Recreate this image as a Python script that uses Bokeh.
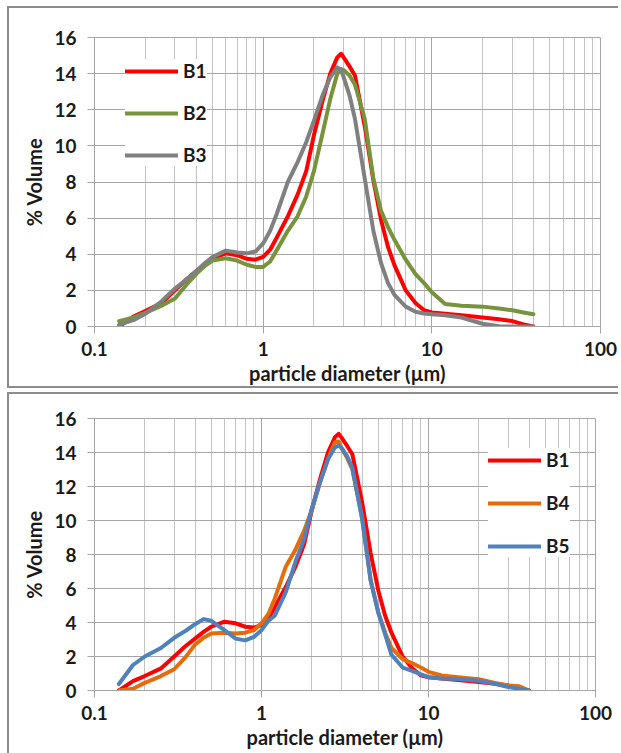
from bokeh.plotting import figure
from bokeh.models import (Range1d, FixedTicker, CustomJSTickFormatter, Legend, LegendItem)
from bokeh.layouts import column
from bokeh.embed import file_html
from bokeh.resources import INLINE

# ---------------- data ----------------
diameter = [0.14, 0.17, 0.2, 0.25, 0.3, 0.35, 0.4, 0.45, 0.5, 0.6, 0.7, 0.8, 0.9, 1.0,
            1.1, 1.2, 1.4, 1.6, 1.8, 2.0, 2.25, 2.5, 2.75, 2.9, 3.0, 3.25, 3.5, 4.0, 4.5,
            5.0, 5.5, 6.0, 7.0, 8.0, 9.0, 10, 12, 15, 20, 25, 30, 35, 40]

b1 = [0.0, 0.55, 0.85, 1.3, 2.0, 2.6, 3.05, 3.45, 3.75, 4.05, 3.95, 3.75, 3.7, 3.85,
      4.25, 4.9, 6.1, 7.3, 8.6, 10.6, 12.5, 14.0, 14.9, 15.1, 14.9, 14.4, 13.9, 11.1, 8.1,
      5.9, 4.4, 3.4, 2.0, 1.3, 0.9, 0.78, 0.7, 0.62, 0.5, 0.4, 0.3, 0.12, 0.0]

b2 = [0.3, 0.5, 0.75, 1.15, 1.55, 2.3, 2.9, 3.35, 3.65, 3.78, 3.65, 3.42, 3.3, 3.3,
      3.6, 4.2, 5.3, 6.1, 7.2, 8.6, 10.7, 12.6, 14.0, 14.25, 14.2, 13.9, 13.4, 11.5, 8.2,
      6.4, 5.5, 4.8, 3.7, 2.9, 2.4, 1.9, 1.25, 1.15, 1.1, 1.0, 0.9, 0.78, 0.68]

b3 = [0.1, 0.35, 0.7, 1.4, 2.1, 2.6, 3.05, 3.5, 3.85, 4.2, 4.1, 4.05, 4.15, 4.6,
      5.3, 6.2, 8.0, 9.1, 10.2, 11.4, 12.8, 13.8, 14.35, 14.2, 13.8, 12.8, 11.5, 8.2, 5.3,
      3.5, 2.4, 1.75, 1.1, 0.82, 0.72, 0.68, 0.62, 0.5, 0.15, 0.02, 0.0, 0.0, 0.0]

b4 = [0.0, 0.1, 0.45, 0.85, 1.25, 1.95, 2.7, 3.1, 3.35, 3.4, 3.35, 3.4, 3.55, 3.95,
      4.5, 5.4, 7.3, 8.3, 9.4, 10.6, 12.3, 13.6, 14.6, 14.65, 14.3, 13.7, 13.0, 10.2, 6.5,
      4.6, 3.4, 2.5, 1.85, 1.6, 1.35, 1.1, 0.88, 0.78, 0.66, 0.45, 0.3, 0.25, 0.0]

b5 = [0.38, 1.5, 2.0, 2.5, 3.1, 3.5, 3.9, 4.2, 4.1, 3.55, 3.05, 2.95, 3.15, 3.55,
      4.1, 4.4, 5.8, 7.6, 8.9, 10.7, 12.3, 13.6, 14.3, 14.4, 14.3, 13.8, 13.1, 10.1, 6.5,
      4.6, 3.3, 2.1, 1.35, 1.15, 0.95, 0.78, 0.7, 0.67, 0.57, 0.4, 0.2, 0.1, 0.0]

x_major = [0.1, 1, 10, 100]
x_minor = [0.2, 0.3, 0.4, 0.5, 0.6, 0.7, 0.8, 0.9,
           2, 3, 4, 5, 6, 7, 8, 9,
           20, 30, 40, 50, 60, 70, 80, 90]
y_ticks = [0, 2, 4, 6, 8, 10, 12, 14, 16]

RED = "#ff0000"
GREEN = "#77933c"
GRAY = "#808080"
ORANGE = "#e46c0a"
BLUE = "#4f81bd"

FONT = "Lato"
GRID = "#a6a6a6"
MINOR = "#c4c4c4"
FRAME = "2px solid #8c8c8c"


def make_panel(series, frame_w, frame_h, mb_left, mb_top, mb_right, mb_bottom,
               legend_loc, legend_pad, legend_spacing, styles, margin):
    p = figure(x_axis_type="log", x_range=Range1d(0.1, 100), y_range=Range1d(0, 16),
               frame_width=frame_w, frame_height=frame_h,
               min_border_left=mb_left, min_border_top=mb_top,
               min_border_right=mb_right, min_border_bottom=mb_bottom,
               output_backend="svg", toolbar_location=None,
               styles=styles, margin=margin)
    p.outline_line_color = GRID
    p.background_fill_color = "white"
    p.border_fill_color = "white"

    p.xaxis.ticker = FixedTicker(ticks=x_major, minor_ticks=x_minor)
    p.xaxis.formatter = CustomJSTickFormatter(code="return tick.toString();")
    p.yaxis.ticker = FixedTicker(ticks=y_ticks)

    for ax in (p.xaxis, p.yaxis):
        ax.axis_line_color = GRID
        ax.major_tick_line_color = GRID
        ax.major_tick_in = 0
        ax.major_tick_out = 7
        ax.minor_tick_line_color = None
        ax.major_label_text_font = FONT
        ax.major_label_text_font_style = "bold"
        ax.major_label_text_font_size = "19px"
        ax.major_label_text_color = "#1a1a1a"
        ax.axis_label_text_font = FONT
        ax.axis_label_text_font_style = "bold"
        ax.axis_label_text_font_size = "20px"
        ax.axis_label_text_color = "#1a1a1a"

    p.xaxis.axis_label = "particle diameter (µm)"
    p.yaxis.axis_label = "% Volume"
    p.xaxis.major_label_standoff = 8
    p.xaxis.axis_label_standoff = 2
    p.yaxis.major_label_standoff = 11
    p.yaxis.axis_label_standoff = 5

    p.xgrid.grid_line_color = GRID
    p.xgrid.minor_grid_line_color = MINOR
    p.ygrid.grid_line_color = GRID

    items = []
    for name, ys, color in series:
        r = p.line(diameter, ys, line_color=color, line_width=4, line_join="round",
                   line_cap="round")
        items.append(LegendItem(label=name, renderers=[r]))

    leg = Legend(items=items, location=legend_loc, padding=legend_pad,
                 spacing=legend_spacing, glyph_width=53, glyph_height=20,
                 label_height=20, label_standoff=5,
                 label_text_font=FONT, label_text_font_style="bold",
                 label_text_font_size="19px", label_text_color="#1a1a1a",
                 border_line_color=None, background_fill_color="white",
                 background_fill_alpha=1.0, margin=0)
    p.add_layout(leg)
    return p


top = make_panel([("B1", b1, RED), ("B2", b2, GREEN), ("B3", b3, GRAY)],
                 frame_w=504, frame_h=285, mb_left=81, mb_top=29, mb_right=24,
                 mb_bottom=64, legend_loc=(31, 160), legend_pad=11, legend_spacing=19,
                 styles={"border-left": FRAME, "border-top": FRAME, "border-bottom": FRAME},
                 margin=(6, 0, 0, 7))

bottom = make_panel([("B1", b1, RED), ("B4", b4, ORANGE), ("B5", b5, BLUE)],
                    frame_w=499, frame_h=270, mb_left=85, mb_top=24, mb_right=25,
                    mb_bottom=65, legend_loc=(394, 133), legend_pad=8, legend_spacing=20,
                    styles={"border-left": FRAME, "border-top": FRAME},
                    margin=(4, 0, 0, 7))

layout = column(top, bottom, spacing=0)

open("out.html", "w").write(file_html(layout, INLINE))
